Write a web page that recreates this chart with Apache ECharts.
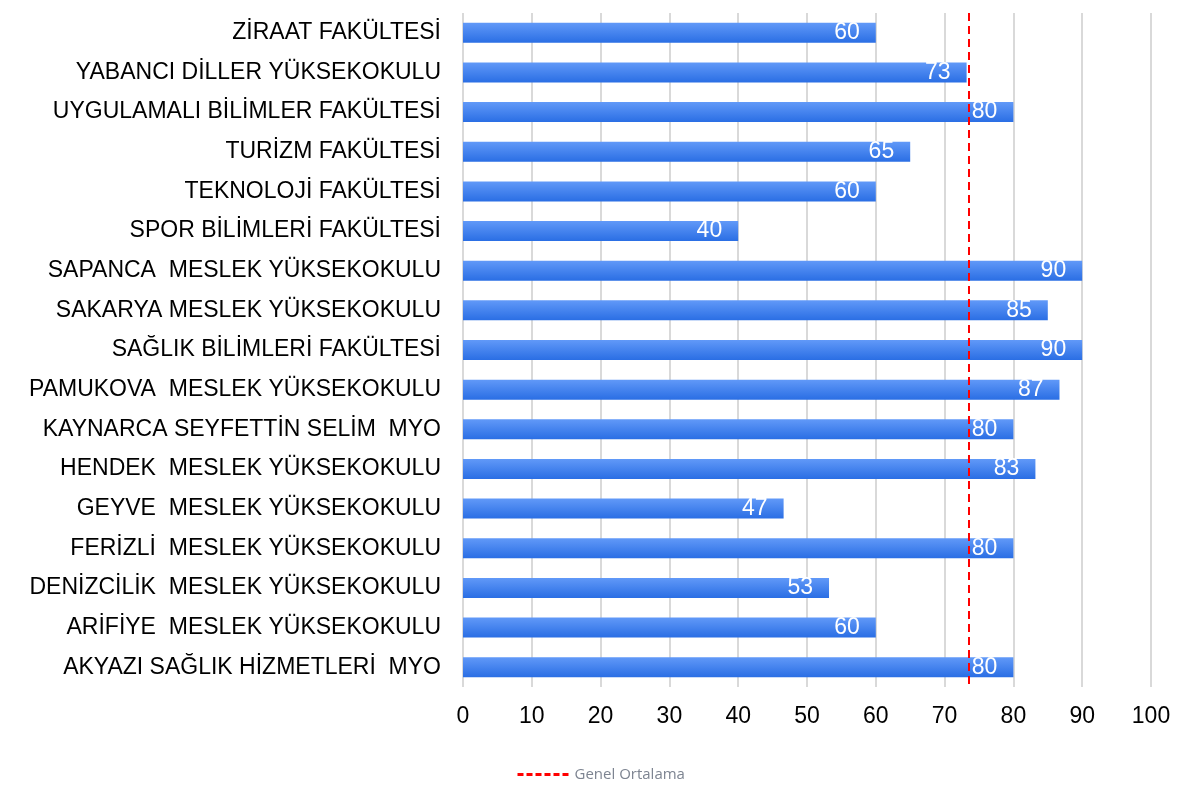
<!DOCTYPE html>
<html>
<head>
    <meta charset="utf-8">
    <title>ECharts</title>
    <script src="https://cdn.jsdelivr.net/npm/echarts@6/dist/echarts.min.js"></script>
</head>
<body style="margin:0">
<div id="main" style="width: 1182px;height:786px;"></div>
<script type="text/javascript">
    // units, top to bottom
    var birimler = [
        'ZİRAAT FAKÜLTESİ',
        'YABANCI DİLLER YÜKSEKOKULU',
        'UYGULAMALI BİLİMLER FAKÜLTESİ',
        'TURİZM FAKÜLTESİ',
        'TEKNOLOJİ FAKÜLTESİ',
        'SPOR BİLİMLERİ FAKÜLTESİ',
        'SAPANCA  MESLEK YÜKSEKOKULU',
        'SAKARYA MESLEK YÜKSEKOKULU',
        'SAĞLIK BİLİMLERİ FAKÜLTESİ',
        'PAMUKOVA  MESLEK YÜKSEKOKULU',
        'KAYNARCA SEYFETTİN SELİM  MYO',
        'HENDEK  MESLEK YÜKSEKOKULU',
        'GEYVE  MESLEK YÜKSEKOKULU',
        'FERİZLİ  MESLEK YÜKSEKOKULU',
        'DENİZCİLİK  MESLEK YÜKSEKOKULU',
        'ARİFİYE  MESLEK YÜKSEKOKULU',
        'AKYAZI SAĞLIK HİZMETLERİ  MYO'
    ];
    var puanlar = [60, 73.2, 80, 65, 60, 40, 90, 85, 90, 86.7, 80, 83.2, 46.6, 80, 53.2, 60, 80];
    var genelOrtalama = 73.5;

    var myChart = echarts.init(document.getElementById('main'));

    option = {
        animation: false,
        textStyle: {fontFamily: 'Liberation Sans, Arial, sans-serif'},
        grid: {
            left: 463,
            right: 31,
            top: 13,
            bottom: 99
        },
        legend: {
            left: 511,
            top: 762,
            itemWidth: 52,
            itemHeight: 14,
            itemGap: 5,
            textStyle: {color: '#7d8491', fontSize: 15, fontFamily: 'Open Sans, sans-serif'},
            lineStyle: {width: 3},
            data: [{name: 'Genel Ortalama', itemStyle: {opacity: 0}}]
        },
        xAxis: {
            type: 'value',
            min: 0,
            max: 100,
            interval: 10,
            axisLine: {show: false},
            axisTick: {show: false},
            axisLabel: {color: '#000', fontSize: 23, margin: 18},
            splitLine: {lineStyle: {color: '#d9d9d9', width: 2}}
        },
        yAxis: {
            type: 'category',
            inverse: true,
            data: birimler,
            axisLine: {show: false},
            axisTick: {show: false},
            axisLabel: {color: '#000', fontSize: 23, margin: 22}
        },
        series: [
            {
                name: 'Puan',
                type: 'bar',
                barWidth: 20,
                data: puanlar,
                itemStyle: {
                    color: new echarts.graphic.LinearGradient(0, 0, 0, 1, [
                        {offset: 0, color: '#6199f8'},
                        {offset: 1, color: '#2a6ee4'}
                    ])
                },
                label: {
                    show: true,
                    position: 'insideRight',
                    distance: 16,
                    color: '#fff',
                    fontSize: 23,
                    formatter: function (p) { return Math.round(p.value); }
                }
            },
            {
                name: 'Genel Ortalama',
                type: 'line',
                symbol: 'none',
                data: [],
                lineStyle: {color: '#ff0000', width: 3, type: [6, 3]},
                itemStyle: {color: '#ff0000'},
                markLine: {
                    silent: true,
                    symbol: 'none',
                    label: {show: false},
                    lineStyle: {color: '#ff0000', width: 2, type: [8, 5]},
                    data: [{xAxis: genelOrtalama}]
                }
            }
        ]
    };

    myChart.setOption(option);
</script>
</body>
</html>
